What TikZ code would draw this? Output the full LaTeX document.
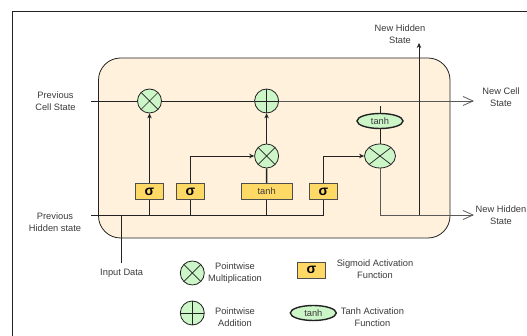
\documentclass[tikz,border=0pt]{standalone}
\usepackage{fontspec}
\setmainfont{Liberation Sans}
\usetikzlibrary{arrows.meta,shapes.geometric}

\definecolor{cellfill}{HTML}{FFF1DC}
\definecolor{opfill}{HTML}{CCF5C8}
\definecolor{gatefill}{HTML}{FFD966}
\definecolor{ink}{HTML}{222222}
\definecolor{txt}{HTML}{3A3A3A}

\tikzset{
  base/.style={draw=ink, line width=0.8pt},
  mult/.style={base, circle, fill=opfill, minimum size=24pt, inner sep=0pt,
    path picture={\draw[ink, line width=0.7pt]
      (path picture bounding box.north east) -- (path picture bounding box.south west)
      (path picture bounding box.north west) -- (path picture bounding box.south east);}},
  multwide/.style={mult, ellipse, minimum width=31pt, minimum height=24pt},
  plusop/.style={base, circle, fill=opfill, minimum size=24pt, inner sep=0pt,
    path picture={\draw[ink, line width=0.7pt]
      (path picture bounding box.north) -- (path picture bounding box.south)
      (path picture bounding box.west) -- (path picture bounding box.east);}},
  gate/.style={draw=ink!80, line width=0.8pt, fill=gatefill, minimum width=28pt,
    minimum height=16pt, inner sep=0pt, font=\fontsize{14}{14}\selectfont\bfseries},
  tanhgate/.style={gate, minimum width=51pt, font=\fontsize{9.3}{11}\selectfont, text=txt},
  tanhact/.style={ellipse, draw=ink, line width=1.4pt, fill=opfill, minimum width=46pt,
    minimum height=15pt, inner sep=0pt, font=\fontsize{9.3}{11}\selectfont, text=txt},
  lbl/.style={align=center, text=txt, font=\fontsize{9.3}{11.7}\selectfont, inner sep=0pt},
  wire/.style={draw=ink, line width=0.8pt},
  feed/.style={draw=ink, line width=1.4pt},
  flow/.style={wire, -{Stealth[length=5pt,width=4.5pt]}},
  outflow/.style={draw=ink!75, line width=0.8pt, -{Straight Barb[length=10pt,width=9pt]}},
}

\begin{document}
\begin{tikzpicture}[x=1pt, y=-1pt]
\useasboundingbox (0,0) rectangle (527,336);

% page frame (only top and left edges visible)
\draw[ink, line width=0.8pt] (527,11) -- (12,11) -- (12,336);

% LSTM cell body
\draw[base, fill=cellfill, rounded corners=22pt] (98.5,58) rectangle (450,238);

% operators
\node[mult]     (m1) at (149.5,101) {};
\node[plusop]   (pl) at (266.6,101) {};
\node[mult]     (m2) at (266.6,156) {};
\node[multwide] (m3) at (380,156) {};
\node[tanhact]  (th) at (380,121) {tanh};

% gates
\node[gate]     (s1) at (149.5,191.5) {σ};
\node[gate]     (s2) at (190.5,191.5) {σ};
\node[tanhgate] (tb) at (266.7,191.5) {tanh};
\node[gate]     (s4) at (323.3,191.5) {σ};

% external end points
\coordinate (cin)  at (91,101);
\coordinate (cout) at (474,101);
\coordinate (hin)  at (91,215);
\coordinate (hout) at (474,215);
\coordinate (hup)  at (419,43);
\coordinate (hjoin) at (419,215);
\coordinate (xin)  at (121.7,262.7);
\coordinate (xjoin) at (121.7,215);
\coordinate (ctap) at (380,106);

% cell state path
\draw[wire] (cin) -- (m1.west);
\draw[wire] (m1.east) -- (pl.west);
\draw[outflow] (pl.east) -- (cout);

% hidden state / input bus
\draw[wire] (hin) -- (hin -| s4) -- (s4.south);
\draw[wire] (xjoin) -- (xin);
\draw[feed] (s1.south) -- (s1.south |- hin);
\draw[feed] (s2.south) -- (s2.south |- hin);
\draw[feed] (tb.south) -- (tb.south |- hin);

% gate outputs
\draw[flow] (s1.north) -- (m1.south);
\draw[flow] (s2.north) |- (m2.west);
\draw[feed] (tb.north) -- (m2.south);
\draw[flow] (m2.north) -- (pl.south);
\draw[flow] (s4.north) |- (m3.west);
\draw[wire] (th.south) -- (m3.north);
\draw[wire] (th.north) -- (ctap);

% new hidden state
\draw[outflow] (m3.south) |- (hout);
\draw[flow] (hjoin) -- (hup);

% labels
\node[lbl] at (55.5,101) {Previous\\Cell State};
\node[lbl] at (55,222) {Previous\\Hidden state};
\node[lbl] at (400,34) {New Hidden\\State};
\node[lbl] at (501,97) {New Cell\\State};
\node[lbl] at (501,215) {New Hidden\\State};
\node[lbl] at (121.7,273) {Input Data};

% legend
\node[mult]   (lm) at (192.3,273) {};
\node[lbl] at (235,273) {Pointwise\\Multiplication};
\node[plusop] (lp) at (192.3,313) {};
\node[lbl] at (235,317) {Pointwise\\Addition};
\node[gate]   (ls) at (311.5,270) {σ};
\node[lbl] at (375,269) {Sigmoid Activation\\Function};
\node[tanhact] (lt) at (313.3,313) {tanh};
\node[lbl] at (372.4,317) {Tanh Activation\\Function};
\end{tikzpicture}
\end{document}
